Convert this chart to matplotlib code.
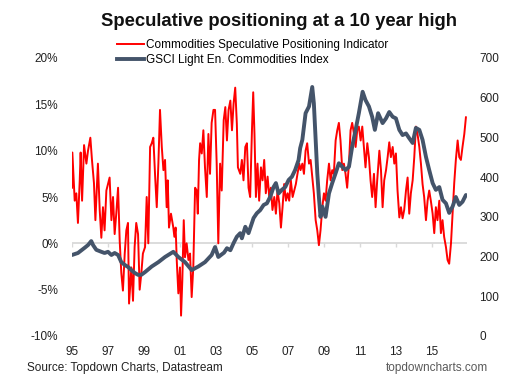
import matplotlib
matplotlib.use("Agg")
import matplotlib.pyplot as plt
from matplotlib.lines import Line2D

plt.rcParams['font.family'] = ['Liberation Sans', 'DejaVu Sans']

title = "Speculative positioning at a 10 year high"
red_label = "Commodities Speculative Positioning Indicator"
gray_label = "GSCI Light En. Commodities Index"
source = "Source: Topdown Charts, Datastream"
site = "topdowncharts.com"

red_years = [
    1995.00, 1995.02, 1995.15, 1995.24, 1995.33, 1995.43, 1995.48, 1995.56, 1995.67, 1995.80,
    1995.89, 1996.02, 1996.11, 1996.22, 1996.30, 1996.44, 1996.54, 1996.63, 1996.72, 1996.81,
    1996.91, 1997.00, 1997.09, 1997.19, 1997.28, 1997.37, 1997.46, 1997.56, 1997.65, 1997.74,
    1997.83, 1997.93, 1998.02, 1998.11, 1998.17, 1998.30, 1998.39, 1998.48, 1998.57, 1998.67,
    1998.76, 1998.85, 1998.94, 1999.06, 1999.15, 1999.24, 1999.34, 1999.43, 1999.52, 1999.62,
    1999.71, 1999.80, 1999.89, 1999.99, 2000.08, 2000.17, 2000.26, 2000.32, 2000.39, 2000.50,
    2000.63, 2000.69, 2000.76, 2000.82, 2000.91, 2001.00, 2001.06, 2001.13, 2001.21, 2001.28,
    2001.37, 2001.47, 2001.56, 2001.65, 2001.74, 2001.84, 2001.93, 2001.99, 2002.06, 2002.12,
    2002.21, 2002.30, 2002.39, 2002.49, 2002.58, 2002.67, 2002.76, 2002.86, 2002.95, 2003.04,
    2003.13, 2003.23, 2003.32, 2003.43, 2003.52, 2003.61, 2003.70, 2003.80, 2003.89, 2003.98,
    2004.07, 2004.16, 2004.22, 2004.35, 2004.44, 2004.53, 2004.63, 2004.72, 2004.81, 2004.90,
    2005.00, 2005.07, 2005.14, 2005.22, 2005.31, 2005.40, 2005.50, 2005.59, 2005.68, 2005.77,
    2005.87, 2005.96, 2006.05, 2006.14, 2006.24, 2006.33, 2006.42, 2006.52, 2006.61, 2006.70,
    2006.79, 2006.89, 2006.98, 2007.07, 2007.16, 2007.26, 2007.35, 2007.44, 2007.53, 2007.63,
    2007.70, 2007.80, 2007.89, 2007.98, 2008.07, 2008.17, 2008.26, 2008.35, 2008.44, 2008.54,
    2008.63, 2008.72, 2008.81, 2008.91, 2009.00, 2009.09, 2009.18, 2009.28, 2009.37, 2009.46,
    2009.55, 2009.65, 2009.74, 2009.83, 2009.92, 2010.02, 2010.11, 2010.20, 2010.29, 2010.39,
    2010.48, 2010.57, 2010.67, 2010.76, 2010.85, 2010.94, 2011.04, 2011.13, 2011.22, 2011.31,
    2011.41, 2011.50, 2011.59, 2011.68, 2011.78, 2011.87, 2011.96, 2012.08, 2012.17, 2012.26,
    2012.35, 2012.45, 2012.54, 2012.63, 2012.72, 2012.82, 2012.91, 2013.00, 2013.09, 2013.19,
    2013.28, 2013.37, 2013.46, 2013.56, 2013.65, 2013.74, 2013.83, 2013.93, 2014.02, 2014.11,
    2014.20, 2014.30, 2014.39, 2014.48, 2014.57, 2014.67, 2014.76, 2014.85, 2014.94, 2015.04,
    2015.13, 2015.22, 2015.31, 2015.41, 2015.50, 2015.59, 2015.68, 2015.78, 2015.87, 2015.96,
    2016.06, 2016.15, 2016.24, 2016.33, 2016.43, 2016.52, 2016.61, 2016.70, 2016.80, 2016.89,
]
red_values = [
    6.0, 9.8, 4.6, 5.4, 2.2, 6.8, 9.8, 4.6, 10.6, 8.6,
    10.0, 11.4, 9.0, 6.5, 2.5, 8.6, 3.6, 0.6, 3.9, 1.4,
    5.7, 6.4, 7.1, 2.5, 5.0, 1.0, 3.2, 6.0, 0.3, -3.2,
    -5.1, -1.1, 1.4, 2.2, -6.5, -2.6, -6.2, -0.4, 2.2, 1.0,
    -5.0, -3.3, -1.1, -0.4, 5.0, 0.0, 10.4, 10.8, 11.4, 7.2,
    3.9, 8.6, 14.4, 10.4, 7.9, 9.0, 3.9, 6.8, 1.7, 3.2,
    1.7, 0.7, 1.7, -1.8, -5.4, -2.6, -7.8, -4.0, 2.5, -1.5,
    0.0, -1.8, -1.1, -5.8, -2.6, 6.0, 5.7, 3.2, 9.0, 10.8,
    9.7, 12.2, 8.2, 5.0, 11.8, 7.5, 13.0, 14.4, 14.4, 8.6,
    0.0, 8.6, 5.7, 13.3, 14.7, 11.1, 14.4, 15.4, 12.2, 15.1,
    16.8, 12.9, 8.2, 7.5, 9.0, 6.8, 10.4, 10.8, 6.0, 5.0,
    12.2, 16.3, 11.8, 5.0, 8.6, 4.6, 8.2, 6.8, 9.0, 5.4,
    7.2, 5.0, 6.0, 3.6, 5.0, 3.2, 5.7, 4.3, 1.7, 3.9,
    6.4, 4.6, 5.4, 4.6, 6.8, 5.0, 5.7, 6.4, 7.5, 8.6,
    7.9, 8.6, 7.5, 10.0, 10.8, 8.6, 9.0, 7.2, 5.4, 2.5,
    1.4, -0.2, 1.4, 3.9, 5.4, 4.6, 6.8, 8.6, 6.8, 7.9,
    7.5, 11.1, 12.2, 13.0, 11.1, 7.9, 8.6, 7.5, 6.0, 8.6,
    12.2, 13.0, 11.8, 10.4, 12.2, 12.6, 11.1, 12.6, 10.4, 8.2,
    10.8, 9.3, 6.8, 5.0, 7.5, 3.9, 6.8, 10.0, 7.9, 3.9,
    6.8, 7.9, 9.3, 10.9, 9.3, 10.4, 8.6, 9.7, 5.7, 2.8,
    3.9, 2.7, 3.6, 5.7, 7.1, 3.2, 5.4, 6.8, 9.3, 12.6,
    11.8, 10.4, 8.6, 6.4, 5.0, 2.5, 4.6, 5.7, 4.6, 3.2,
    1.1, 3.9, 2.5, 4.6, 1.1, 2.5, 0.7, -0.4, -1.8, -2.2,
    0.0, 3.2, 6.5, 9.0, 11.1, 9.3, 9.0, 10.4, 11.8, 13.6,
]

gsci_years = [
    1995.00, 1995.33, 1995.70, 1995.89, 1996.07, 1996.17, 1996.35, 1996.63, 1996.81, 1997.00,
    1997.19, 1997.37, 1997.56, 1997.74, 1997.93, 1998.11, 1998.30, 1998.48, 1998.67, 1998.85,
    1999.06, 1999.43, 1999.80, 2000.17, 2000.63, 2000.91, 2001.28, 2001.65, 2002.02, 2002.39,
    2002.76, 2002.95, 2003.13, 2003.45, 2003.61, 2003.80, 2003.98, 2004.16, 2004.35, 2004.44,
    2004.63, 2004.81, 2005.09, 2005.27, 2005.46, 2005.65, 2005.83, 2006.02, 2006.20, 2006.33,
    2006.48, 2006.66, 2006.85, 2007.04, 2007.22, 2007.40, 2007.59, 2007.68, 2007.80, 2007.98,
    2008.17, 2008.35, 2008.44, 2008.54, 2008.63, 2008.72, 2008.81, 2008.91, 2009.09, 2009.28,
    2009.46, 2009.65, 2009.83, 2010.02, 2010.20, 2010.39, 2010.57, 2010.76, 2010.94, 2011.15,
    2011.31, 2011.50, 2011.68, 2011.83, 2012.01, 2012.26, 2012.45, 2012.63, 2012.82, 2013.00,
    2013.19, 2013.37, 2013.56, 2013.74, 2013.93, 2014.11, 2014.30, 2014.48, 2014.67, 2014.85,
    2015.04, 2015.22, 2015.41, 2015.59, 2015.78, 2015.96, 2016.15, 2016.33, 2016.52, 2016.70,
    2016.89,
]
gsci_values = [
    204, 209, 222, 229, 239, 229, 217, 212, 209, 212,
    204, 209, 204, 186, 179, 174, 166, 159, 154, 154,
    161, 175, 186, 199, 212, 199, 186, 166, 175, 186,
    204, 224, 199, 210, 221, 216, 234, 250, 259, 246,
    275, 259, 297, 309, 317, 330, 334, 351, 375, 385,
    359, 368, 375, 393, 401, 418, 443, 473, 494, 561,
    578, 627, 586, 494, 410, 350, 300, 326, 300, 359,
    385, 410, 435, 426, 418, 426, 477, 519, 561, 615,
    594, 578, 552, 519, 561, 536, 548, 564, 552, 548,
    519, 506, 510, 498, 486, 524, 519, 494, 451, 418,
    385, 368, 375, 343, 334, 310, 326, 350, 330, 338,
    355,
]

tick_years = [1995, 1997, 1999, 2001, 2003, 2005, 2007, 2009, 2011, 2013, 2015]
tick_labels = ["95", "97", "99", "01", "03", "05", "07", "09", "11", "13", "15"]
left_ticks = [-10, -5, 0, 5, 10, 15, 20]
right_ticks = [0, 100, 200, 300, 400, 500, 600, 700]

RED = "#FF0000"
GRAY = "#44546A"
ZERO = "#D9D9D9"
FS = 8.5

fig = plt.figure(figsize=(5.28, 3.89), dpi=100)
ax = fig.add_axes([72/528, 1-336/389, (467-72)/528, (336-58)/389])
ax2 = ax.twinx()

ax.set_xlim(1995, 2016.95)
ax.set_ylim(-10, 20)
ax2.set_ylim(0, 700)

ax.axhline(0, color=ZERO, lw=1.3, zorder=1)
ax.vlines(tick_years, -0.35, 0, color=ZERO, lw=1.0, zorder=1)

ln_red, = ax.plot(red_years, red_values, color=RED, lw=1.4, zorder=3)
ln_gray, = ax2.plot(gsci_years, gsci_values, color=GRAY, lw=2.8, solid_capstyle='round', zorder=2)

for a in (ax, ax2):
    for s in a.spines.values():
        s.set_visible(False)

ax.set_xticks(tick_years)
ax.set_xticklabels(tick_labels)
ax.set_yticks(left_ticks)
ax.set_yticklabels([f"{v}%" for v in left_ticks])
ax2.set_yticks(right_ticks)
ax2.set_yticklabels([str(v) for v in right_ticks])
ax.tick_params(axis='x', length=0, pad=7, labelsize=FS, colors='#222222')
ax.tick_params(axis='y', length=0, pad=10, labelsize=FS, colors='#222222')
ax2.tick_params(axis='y', length=0, pad=9, labelsize=FS, colors='#222222')

fig.text(279/528, 1-22/389, title, ha='center', va='center', fontsize=13.3, fontweight='bold', color='#111111')

legend_handles = [Line2D([0], [0], color=RED, lw=1.4), Line2D([0], [0], color=GRAY, lw=2.8)]
fig.legend(legend_handles, [red_label, gray_label], loc='upper left',
           bbox_to_anchor=(117/528, 1-39/389), frameon=False, fontsize=FS,
           handlelength=2.3, handletextpad=0.15, labelspacing=0.25, borderpad=0,
           borderaxespad=0)

fig.text(27/528, 1-368/389, source, ha='left', va='center', fontsize=FS, color='#222222')
fig.text(488/528, 1-368/389, site, ha='right', va='center', fontsize=FS, color='#595959')

fig.savefig("out.png", dpi=100)
